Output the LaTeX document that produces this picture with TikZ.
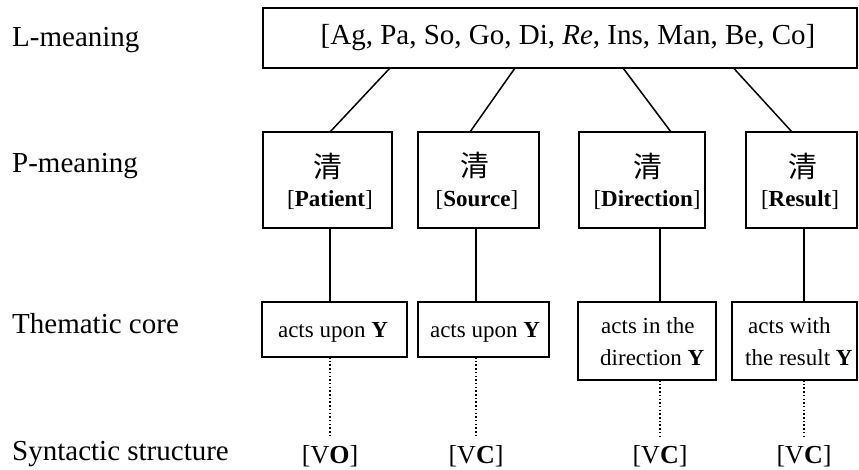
\documentclass[tikz,border=0pt]{standalone}
\usepackage{fontspec}
\setmainfont{Liberation Serif}
\newfontfamily\cjk{Noto Sans CJK SC}

\tikzset{
  box/.style={draw, line width=1.5pt, inner sep=0pt, outer sep=0pt, anchor=north west},
  link/.style={line width=1.5pt},
  dots/.style={line width=1.5pt, dash pattern=on 1.5pt off 2.2pt},
  rowlabel/.style={anchor=base west, inner sep=0pt, font=\fontsize{29}{34}\selectfont},
  toptext/.style={anchor=base, inner sep=0pt, font=\fontsize{29}{34}\selectfont},
  hanzi/.style={inner sep=0pt, font=\cjk\fontsize{29}{34}\selectfont},
  role/.style={anchor=base, inner sep=0pt, font=\fontsize{23}{28}\selectfont},
  core/.style={anchor=base, inner sep=0pt, font=\fontsize{23}{28}\selectfont},
  coreleft/.style={anchor=base west, inner sep=0pt, font=\fontsize{23}{28}\selectfont},
  synt/.style={anchor=base, inner xsep=0pt, inner ysep=8pt, font=\fontsize{26}{30}\selectfont}
}

\begin{document}
\begin{tikzpicture}[x=1pt, y=-1pt]
\useasboundingbox (0,0) rectangle (859,470);

% row labels
\node[rowlabel] (lL) at (12,46.7) {L-meaning};
\node[rowlabel] (lP) at (12,173) {P-meaning};
\node[rowlabel] (lT) at (12,333) {Thematic core};
\node[rowlabel] (lS) at (12,460) {Syntactic structure};

% L-meaning box
\node[box, minimum width=594pt, minimum height=60pt] (top) at (263,8) {};
\node[toptext] (toptxt) at (568,45) {[Ag, Pa, So, Go, Di, \textit{Re}, Ins, Man, Be, Co]};

% P-meaning boxes
\node[box, minimum width=129pt, minimum height=96pt] (p1) at (263,132) {};
\node[box, minimum width=121pt, minimum height=96pt] (p2) at (418,132) {};
\node[box, minimum width=126pt, minimum height=96pt] (p3) at (579,132) {};
\node[box, minimum width=111pt, minimum height=96pt] (p4) at (746,132) {};

\node[hanzi] (h1) at (328,166) {清};
\node[hanzi] (h2) at (475,165) {清};
\node[hanzi] (h3) at (648,166) {清};
\node[hanzi] (h4) at (803,166) {清};

\node[role] (r1) at (330,207) {[\textbf{Patient}]};
\node[role] (r2) at (477,207) {[\textbf{Source}]};
\node[role] (r3) at (647,207) {[\textbf{Direction}]};
\node[role] (r4) at (800,207) {[\textbf{Result}]};

% thematic core boxes
\node[box, minimum width=145pt, minimum height=55pt] (t1) at (262,302) {};
\node[box, minimum width=131pt, minimum height=55pt] (t2) at (418,302) {};
\node[box, minimum width=138pt, minimum height=78pt] (t3) at (578,302) {};
\node[box, minimum width=125pt, minimum height=78pt] (t4) at (732,302) {};

\node[core] (c1) at (333,337) {acts upon \textbf{Y}};
\node[core] (c2) at (485,337) {acts upon \textbf{Y}};
\node[coreleft] (c3a) at (601,333) {acts in the};
\node[coreleft] (c3b) at (600,365) {direction \textbf{Y}};
\node[coreleft] (c4a) at (748,333) {acts with};
\node[coreleft] (c4b) at (745,365) {the result \textbf{Y}};

% syntactic structures
\node[synt] (s1) at (330,463) {[V\textbf{O}]};
\node[synt] (s2) at (476,463) {[V\textbf{C}]};
\node[synt] (s3) at (660,463) {[V\textbf{C}]};
\node[synt] (s4) at (804,463) {[V\textbf{C}]};

% L-meaning to P-meaning
\draw[link] ([xshift=127pt]top.south west) -- ([xshift=67pt]p1.north west);
\draw[link] ([xshift=252pt]top.south west) -- ([xshift=52pt]p2.north west);
\draw[link] ([xshift=360pt]top.south west) -- ([xshift=92pt]p3.north west);
\draw[link] ([xshift=470.5pt]top.south west) -- ([xshift=46pt]p4.north west);

% P-meaning to thematic core
\draw[link] ([xshift=67pt]p1.south west) -- ([xshift=68pt]t1.north west);
\draw[link] ([xshift=58pt]p2.south west) -- ([xshift=58pt]t2.north west);
\draw[link] ([xshift=81pt]p3.south west) -- ([xshift=82pt]t3.north west);
\draw[link] ([xshift=58pt]p4.south west) -- ([xshift=72pt]t4.north west);

% thematic core to syntactic structure
\draw[dots] (t1.south -| s1.north) -- (s1.north);
\draw[dots] (t2.south -| s2.north) -- (s2.north);
\draw[dots] (t3.south -| s3.north) -- (s3.north);
\draw[dots] (t4.south -| s4.north) -- (s4.north);
\end{tikzpicture}
\end{document}
